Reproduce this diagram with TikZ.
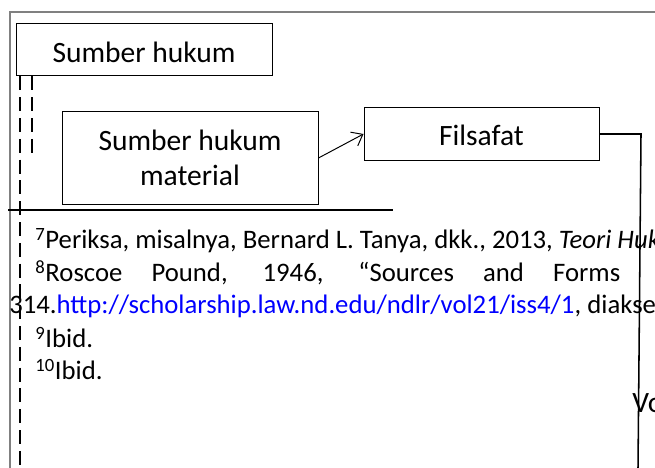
\documentclass[tikz,border=0pt]{standalone}
\usepackage{fontspec}
\setmainfont{Carlito}
\usetikzlibrary{arrows.meta}

\begin{document}
\begin{tikzpicture}[
    kotak/.style={draw, line width=0.7pt, align=center, inner sep=0pt, font=\fontsize{21}{25}\selectfont},
    catatan/.style={anchor=base west, inner sep=0pt, font=\fontsize{19}{22}\selectfont},
    putus/.style={line width=1.4pt, dash pattern=on 0.35cm off 0.17cm}
]
                \useasboundingbox (0,0) rectangle (16.375,11.7);
                \clip (0,0) rectangle (16.375,11.7);

                \draw[gray, line width=0.8pt] (0.25,0) -- (0.25,11.4) -- (16.375,11.4);

                \node[kotak, minimum width=6.4cm, minimum height=1.3cm, text height=0.65cm, text depth=0pt] (sumber) at (3.6,10.45) {Sumber hukum};
                \node[kotak, minimum width=6.4cm, minimum height=2.3cm] (material) at (4.75,7.75) {Sumber hukum\\material};
                \node[kotak, minimum width=5.875cm, minimum height=1.3cm, text height=0.6cm, text depth=0pt] (filsafat) at (12.0375,8.35) {Filsafat};

                \coordinate (putusA) at (0.5,0);
                \coordinate (putusB) at (0.8,7.775);
                \draw[putus] (sumber.south west -| putusA) -- (putusA);
                \draw[putus] (sumber.south west -| putusB) -- (putusB);

                \draw[line width=0.7pt, -{Straight Barb[length=7pt,width=11pt]}] (material.east) -- (filsafat.west);

                \coordinate (belok) at (16.025,8.35);
                \coordinate (bawah) at (15.95,0);
                \draw[line width=1.1pt] (filsafat.east) -- (belok) -- (bawah);

                \node[anchor=base west, inner sep=0pt, font=\fontsize{21}{25}\selectfont] (vo) at (15.8,1.375) {Vo};

                \coordinate (garisA) at (0.2,6.45);
                \coordinate (garisB) at (9.825,6.45);
                \draw[line width=1.1pt] (garisA) -- (garisB);

                \node[catatan] (fn7) at (0.875,5.475) {\textsuperscript{7}Periksa, misalnya, Bernard L. Tanya, dkk., 2013, \textit{Teori Huk}};
                \node[catatan] (fn8) at (0.875,4.65) {\makebox[14.625cm][s]{\textsuperscript{8}Roscoe Pound, 1946, ``Sources and Forms}};
                \node[catatan] (fn8b) at (0.225,3.85) {314.\textcolor{blue}{http://scholarship.law.nd.edu/ndlr/vol21/iss4/1}, diakses};
                \node[catatan] (fn9) at (0.875,3.0) {\textsuperscript{9}Ibid.};
                \node[catatan] (fn10) at (0.875,2.2) {\textsuperscript{10}Ibid.};
\end{tikzpicture}
\end{document}
